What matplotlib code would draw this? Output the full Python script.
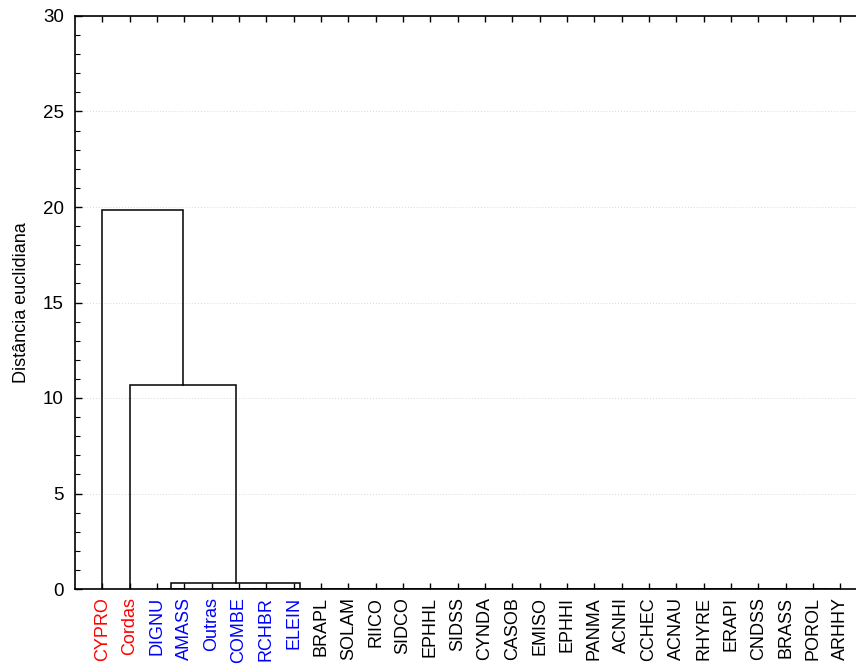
import numpy as np
import matplotlib
matplotlib.use("Agg")
import matplotlib.pyplot as plt
from matplotlib.ticker import MultipleLocator

plt.rcParams['font.family'] = ['Liberation Sans', 'DejaVu Sans']

leaves = ["CYPRO", "Cordas", "DIGNU", "AMASS", "Outras", "COMBE", "RCHBR", "ELEIN",
          "BRAPL", "SOLAM", "RIICO", "SIDCO", "EPHHL", "SIDSS", "CYNDA", "CASOB",
          "EMISO", "EPHHI", "PANMA", "ACNHI", "CCHEC", "ACNAU", "RHYRE", "ERAPI",
          "CNDSS", "BRASS", "POROL", "ARHHY"]
label_colors = ["red", "red", "blue", "blue", "blue", "blue", "blue", "blue"] + ["black"] * 20

# merges: (a, b, height); ids < 28 are leaves, id 28 + k is the k-th merge
merges = [
    (26, 27, 0.0), (25, 28, 0.0), (24, 29, 0.0), (23, 30, 0.0), (22, 31, 0.0),
    (21, 32, 0.0), (20, 33, 0.0), (19, 34, 0.0), (18, 35, 0.0), (17, 36, 0.0),
    (16, 37, 0.0), (15, 38, 0.0), (14, 39, 0.0), (13, 40, 0.0), (12, 41, 0.0),
    (11, 42, 0.0), (10, 43, 0.0), (9, 44, 0.0), (8, 45, 0.0),
    (4, 5, 0.0), (6, 7, 0.0), (47, 48, 0.0), (49, 46, 0.0),
    (2, 3, 0.0),
    (51, 50, 0.30),
    (1, 52, 10.7),
    (0, 53, 19.85),
]

n = len(leaves)
pos = {i: i + 1.0 for i in range(n)}
hgt = {i: 0.0 for i in range(n)}

fig = plt.figure(figsize=(8.56, 6.68), dpi=100)
ax = fig.add_axes([75 / 856, 79 / 668, 792.6 / 856, 573 / 668])

for k, (a, b, h) in enumerate(merges):
    xa, xb = pos[a], pos[b]
    ax.plot([xa, xa, xb, xb], [hgt[a], h, h, hgt[b]], color="black", lw=1.1,
            solid_joinstyle="miter", zorder=3)
    pos[n + k] = (xa + xb) / 2
    hgt[n + k] = h

ax.set_xlim(0, n + 1)
ax.set_ylim(0, 30)
ax.set_xticks(np.arange(1, n + 1))
ax.set_xticklabels(leaves, rotation=90, fontsize=13)
for lbl, c in zip(ax.get_xticklabels(), label_colors):
    lbl.set_color(c)
ax.yaxis.set_major_locator(MultipleLocator(5))
ax.yaxis.set_minor_locator(MultipleLocator(1))
ax.tick_params(axis="x", direction="in", top=True, length=4, width=1, pad=6)
ax.tick_params(axis="y", which="major", direction="in", right=True, length=5, width=1,
               labelsize=13.5, pad=8)
ax.tick_params(axis="y", which="minor", direction="in", right=True, length=3.5, width=0.8)
ax.grid(axis="y", which="major", color="#d8d8d8", linestyle=(0, (1, 2)), lw=0.7, zorder=0)
ax.set_axisbelow(True)
for s in ax.spines.values():
    s.set_linewidth(1.2)
ax.set_ylabel("Distância euclidiana", fontsize=13, labelpad=9)

fig.savefig("out.png", dpi=100)
